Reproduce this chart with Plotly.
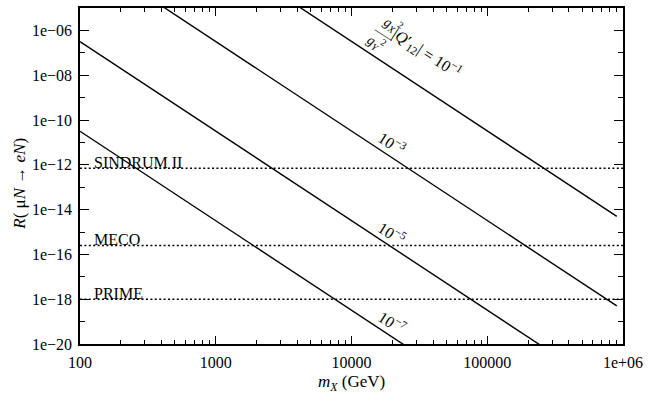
import numpy as np
import plotly.graph_objects as go

# ---------------- data ----------------
mass_ends = [100, 9e5]                      # GeV, start / end of each curve
couplings = ["1e-1", "1e-3", "1e-5", "1e-7"]
rate_ends = {                               # R at m = 100 and m = 9e5
    "1e-1": [3.16e1, 5.0e-15],
    "1e-3": [3.16e-3, 5.0e-19],
    "1e-5": [3.16e-7, 5.0e-23],
    "1e-7": [3.16e-11, 5.0e-27],
}
curve_labels = {"1e-3": "10<sup>−3</sup>", "1e-5": "10<sup>−5</sup>", "1e-7": "10<sup>−7</sup>"}

limit_names = ["SINDRUM II", "MECO", "PRIME"]
limit_values = [7e-13, 2.5e-16, 1e-18]

x_tickvals = [1e2, 1e3, 1e4, 1e5, 1e6]
x_ticktext = ["100", "1000", "10000", "100000", "1e+06"]
y_tickvals = [1e-6, 1e-8, 1e-10, 1e-12, 1e-14, 1e-16, 1e-18, 1e-20]
y_ticktext = ["1e−06", "1e−08", "1e−10", "1e−12", "1e−14", "1e−16", "1e−18", "1e−20"]
x_minor = [k * 10 ** d for d in range(2, 6) for k in range(2, 10)]
y_minor = [10.0 ** e for e in range(-19, -5, 2)]

FONT = "Liberation Serif"

fig = go.Figure()

for c in couplings:
    fig.add_trace(go.Scatter(x=mass_ends, y=rate_ends[c], mode="lines",
                             line=dict(color="black", width=1.4),
                             showlegend=False, hoverinfo="skip"))

for v in limit_values:
    fig.add_trace(go.Scatter(x=[100, 1e6], y=[v, v], mode="lines",
                             line=dict(color="black", width=1.5, dash="2px,2.4px"),
                             showlegend=False, hoverinfo="skip"))


def on_line(c, m):
    lx = np.log10(mass_ends)
    ly = np.log10(rate_ends[c])
    t = (np.log10(m) - lx[0]) / (lx[1] - lx[0])
    return np.log10(m), ly[0] + t * (ly[1] - ly[0])


ann = []
ANG = 33
# curve labels 10^-3, 10^-5, 10^-7
for c, txt in curve_labels.items():
    x, y = on_line(c, 17900)
    ann.append(dict(x=x, y=y, xref="x", yref="y", text=txt, showarrow=False,
                    textangle=ANG, xshift=6.5, yshift=10.5,
                    font=dict(family=FONT, size=16, color="black")))

# top label with fraction
x, y = on_line("1e-1", 25200)
ann.append(dict(x=x, y=y, xref="x", yref="y",
                text="|<i>Q</i>′<sub>12</sub>| = 10<sup>−1</sup>", showarrow=False,
                textangle=ANG, xshift=20.7, yshift=24,
                font=dict(family=FONT, size=16, color="black")))
ann.append(dict(x=x, y=y, xref="x", yref="y",
                text="<i>g</i><sub><i>X</i></sub><sup>2</sup>", showarrow=False,
                textangle=ANG, xshift=-13.3, yshift=52.4,
                font=dict(family=FONT, size=14, color="black")))
ann.append(dict(x=x, y=y, xref="x", yref="y",
                text="<i>g</i><sub><i>Y</i></sub><sup>2</sup>", showarrow=False,
                textangle=ANG, xshift=-30, yshift=34,
                font=dict(family=FONT, size=14, color="black")))
ann.append(dict(x=x, y=y, xref="x", yref="y",
                text="——", showarrow=False,
                textangle=ANG, xshift=-21.7, yshift=43.2,
                font=dict(family=FONT, size=10, color="black")))

# limit labels
for name, v in zip(limit_names, limit_values):
    ann.append(dict(x=0, y=np.log10(v), xref="paper", yref="y", text=name,
                    showarrow=False, xanchor="left", yanchor="bottom",
                    xshift=12, yshift=-5,
                    font=dict(family=FONT, size=16, color="black")))

# axis titles
ann.append(dict(x=-0.113, y=0.476, xref="paper", yref="paper",
                xanchor="center", yanchor="middle",
                text="<i>R</i>( μ<i>N</i> → <i>eN</i>)", showarrow=False,
                textangle=-90, font=dict(family=FONT, size=17, color="black")))
ann.append(dict(x=0.5, y=-0.115, xref="paper", yref="paper",
                xanchor="center", yanchor="middle",
                text="<i>m</i><sub><i>X</i></sub> (GeV)", showarrow=False,
                font=dict(family=FONT, size=17, color="black")))

axis_common = dict(showgrid=False, zeroline=False, showline=True, linecolor="black",
                   linewidth=1.5, mirror="ticks", ticks="inside", tickcolor="black",
                   tickwidth=1.2, ticklabeloverflow="allow",
                   tickfont=dict(family=FONT, size=16, color="black"))

fig.update_layout(
    width=649, height=401,
    margin=dict(l=80, r=19, t=6, b=57),
    paper_bgcolor="white", plot_bgcolor="white",
    font=dict(family=FONT, size=16, color="black"),
    annotations=ann,
    xaxis=dict(type="log", range=[2, 6], tickvals=x_tickvals, ticktext=x_ticktext,
               ticklen=8, ticklabelstandoff=3,
               minor=dict(tickvals=x_minor, ticklen=4, ticks="inside",
                          tickcolor="black", tickwidth=1.2, showgrid=False),
               **axis_common),
    yaxis=dict(type="log", range=[-20, -5], tickvals=y_tickvals, ticktext=y_ticktext,
               ticklen=9, ticklabelstandoff=3,
               minor=dict(tickvals=y_minor, ticklen=5, ticks="inside",
                          tickcolor="black", tickwidth=1.2, showgrid=False),
               **axis_common),
)

fig.write_html("out.html", config={"displayModeBar": False},
               post_script="document.body.style.margin='0';document.body.style.overflow='hidden';")
